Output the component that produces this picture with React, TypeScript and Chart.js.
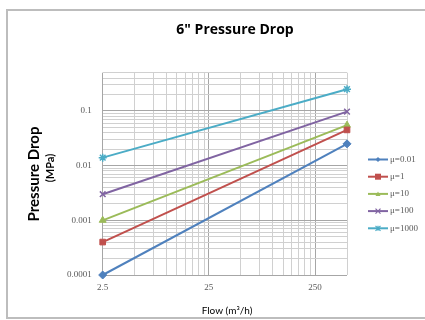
import { useEffect, useRef } from 'react';
import { Chart, registerables } from 'chart.js';
Chart.register(...registerables);

const chartTitle = '6" Pressure Drop';
const yTitleMain = 'Pressure Drop';
const yTitleUnit = '(MPa)';
const xTitle = 'Flow (m³/h)';

const flow = [2.5, 500];
const seriesNames = ['μ=0.01', 'μ=1', 'μ=10', 'μ=100', 'μ=1000'];
const mu001 = [0.0001, 0.025];
const mu1 = [0.0004, 0.045];
const mu10 = [0.001, 0.055];
const mu100 = [0.003, 0.097];
const mu1000 = [0.014, 0.25];
const seriesValues = [mu001, mu1, mu10, mu100, mu1000];

const colors = ['#4F81BD', '#C0504D', '#9BBB59', '#8064A2', '#4BACC6'];
const markers = ['rectRot', 'rect', 'triangle', 'crossRot', 'star'];

const xTickValues = [2.5, 25, 250];
const xTickLabels = ['2.5', '25', '250'];
const yTickValues = [0.0001, 0.001, 0.01, 0.1];
const yTickLabels = ['0.0001', '0.001', '0.01', '0.1'];
const xMin = 2.5, xMax = 500, yMin = 0.0001, yMax = 0.5;

function logGrid(start: number, max: number) {
  const out: number[] = [];
  for (let d = start; d <= max * 1.0001; d *= 10) {
    for (let k = 1; k <= 9; k++) {
      const v = parseFloat((d * k).toPrecision(6));
      if (v <= max * 1.0001) out.push(v);
    }
  }
  return out;
}

function labelFor(v: number, values: number[], labels: string[]) {
  for (let i = 0; i < values.length; i++) {
    if (Math.abs(v - values[i]) / values[i] < 1e-6) return labels[i];
  }
  return '';
}

const serif = '"Liberation Serif", "DejaVu Serif", serif';
const sans = 'Lato, "Open Sans", sans-serif';

function drawMarker(ctx: any, style: string, x: number, y: number, r: number, c: string) {
  ctx.save();
  ctx.fillStyle = c;
  ctx.strokeStyle = c;
  ctx.lineWidth = 1.2;
  ctx.beginPath();
  if (style === 'rectRot') {
    ctx.moveTo(x, y - r); ctx.lineTo(x + r, y); ctx.lineTo(x, y + r); ctx.lineTo(x - r, y); ctx.closePath(); ctx.fill();
  } else if (style === 'rect') {
    ctx.rect(x - r, y - r, 2 * r, 2 * r); ctx.fill();
  } else if (style === 'triangle') {
    ctx.moveTo(x, y - r); ctx.lineTo(x + r, y + r * 0.8); ctx.lineTo(x - r, y + r * 0.8); ctx.closePath(); ctx.fill();
  } else if (style === 'crossRot') {
    ctx.moveTo(x - r, y - r); ctx.lineTo(x + r, y + r); ctx.moveTo(x + r, y - r); ctx.lineTo(x - r, y + r); ctx.stroke();
  } else {
    ctx.moveTo(x - r, y - r); ctx.lineTo(x + r, y + r); ctx.moveTo(x + r, y - r); ctx.lineTo(x - r, y + r);
    ctx.moveTo(x, y - r); ctx.lineTo(x, y + r); ctx.stroke();
  }
  ctx.restore();
}

export default function App() {
  const ref = useRef<HTMLCanvasElement | null>(null);
  useEffect(() => {
    if (!ref.current) return;
    const textPlugin = {
      id: 'texts',
      beforeDraw(chart: any) {
        const ctx = chart.ctx;
        ctx.save();
        ctx.fillStyle = '#ffffff';
        ctx.fillRect(0, 0, chart.width, chart.height);
        ctx.strokeStyle = '#bdbdbd';
        ctx.lineWidth = 2;
        ctx.strokeRect(7, 10, 440, 308);
        ctx.restore();
      },
      afterDraw(chart: any) {
        const ctx = chart.ctx;
        ctx.save();
        ctx.fillStyle = '#000';
        ctx.textAlign = 'center';
        ctx.textBaseline = 'middle';
        ctx.font = `bold 14px "Open Sans", Lato, sans-serif`;
        ctx.fillText(chartTitle, 235, 30);
        ctx.font = `10px ${sans}`;
        ctx.fillText(xTitle, 227, 311);
        ctx.save();
        ctx.translate(34, 174);
        ctx.rotate(-Math.PI / 2);
        ctx.font = `bold 15px ${sans}`;
        ctx.fillText(yTitleMain, 0, 0);
        ctx.restore();
        ctx.save();
        ctx.translate(50, 168);
        ctx.rotate(-Math.PI / 2);
        ctx.font = `bold 11px ${sans}`;
        ctx.fillText(yTitleUnit, 0, 0);
        ctx.restore();
        // legend
        ctx.textAlign = 'left';
        ctx.font = `9px ${serif}`;
        seriesNames.forEach((name, i) => {
          const y = 159.5 + i * 17.2;
          ctx.strokeStyle = colors[i];
          ctx.lineWidth = 2;
          ctx.beginPath();
          ctx.moveTo(368, y);
          ctx.lineTo(388, y);
          ctx.stroke();
          drawMarker(ctx, markers[i], 378, y, i === 1 ? 3 : 2.5, colors[i]);
          ctx.fillStyle = '#595959';
          ctx.fillText(name, 390, y);
        });
        ctx.restore();
      },
    };

    const xGrid = logGrid(xMin, xMax);
    const yGrid = logGrid(yMin, yMax);

    const chart = new Chart(ref.current, {
      type: 'line',
      data: {
        datasets: seriesNames.map((name, i) => ({
          label: name,
          data: flow.map((f, j) => ({ x: f, y: seriesValues[i][j] })),
          borderColor: colors[i],
          backgroundColor: colors[i],
          borderWidth: 2,
          pointStyle: markers[i] as any,
          pointRadius: 4,
          pointBorderWidth: i >= 3 ? 1.5 : 1,
          pointBorderColor: colors[i],
          pointBackgroundColor: colors[i],
          fill: false,
          tension: 0,
          clip: false as any,
        })),
      },
      options: {
        animation: false,
        responsive: false,
        maintainAspectRatio: false,
        layout: { padding: { left: 0, top: 72.7, right: 78, bottom: 0 } },
        plugins: { legend: { display: false }, title: { display: false }, tooltip: { enabled: false } },
        scales: {
          x: {
            type: 'logarithmic',
            min: xMin,
            max: xMax,
            afterBuildTicks: (s: any) => { s.ticks = xGrid.map((v) => ({ value: v })); },
            afterFit: (s: any) => { s.height = 45; },
            ticks: {
              autoSkip: false,
              maxRotation: 0,
              padding: 7,
              color: '#595959',
              font: { family: serif, size: 9 },
              callback: (v: any) => labelFor(Number(v), xTickValues, xTickLabels),
            },
            grid: {
              drawTicks: false,
              color: (c: any) => (labelFor(c.tick?.value, xTickValues, xTickLabels) ? '#a6a6a6' : '#d0d0d0'),
              lineWidth: 1,
            },
            border: { display: false },
          },
          y: {
            type: 'logarithmic',
            min: yMin,
            max: yMax,
            afterBuildTicks: (s: any) => { s.ticks = yGrid.map((v) => ({ value: v })); },
            afterFit: (s: any) => { s.width = 102.7; },
            ticks: {
              autoSkip: false,
              padding: 11,
              color: '#595959',
              font: { family: serif, size: 9 },
              callback: (v: any) => labelFor(Number(v), yTickValues, yTickLabels),
            },
            grid: {
              drawTicks: false,
              color: (c: any) => (labelFor(c.tick?.value, yTickValues, yTickLabels) ? '#a6a6a6' : '#d0d0d0'),
              lineWidth: 1,
            },
            border: { display: false },
          },
        },
      },
      plugins: [textPlugin as any],
    });
    return () => chart.destroy();
  }, []);
  return (
    <div style={{ position: 'absolute', left: 0, top: 0, width: 425, height: 320 }}>
      <canvas ref={ref} width={425} height={320} style={{ display: 'block' }} />
    </div>
  );
}
